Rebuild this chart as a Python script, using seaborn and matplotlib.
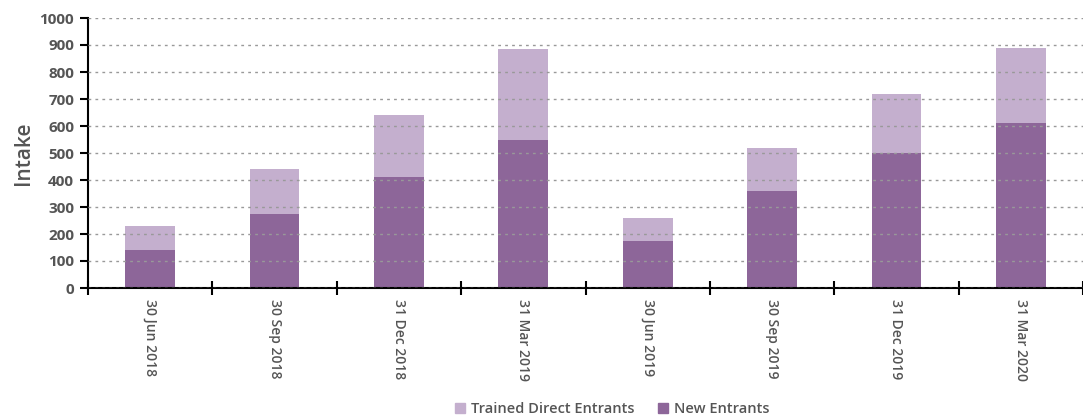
import numpy as np
import pandas as pd
import matplotlib
matplotlib.use("Agg")
import matplotlib.pyplot as plt
import seaborn as sns
from matplotlib.patches import Patch

# chart data
quarters = ["30 Jun 2018", "30 Sep 2018", "31 Dec 2018", "31 Mar 2019",
            "30 Jun 2019", "30 Sep 2019", "31 Dec 2019", "31 Mar 2020"]
new_entrants = [140, 275, 410, 550, 175, 358, 500, 610]
trained_direct = [90, 165, 230, 335, 83, 162, 218, 280]

df = pd.DataFrame({"quarter": quarters,
                   "new": new_entrants,
                   "trained": trained_direct})
df["total"] = df["new"] + df["trained"]

sns.set_style("white")
plt.rcParams['font.family'] = ['Open Sans', 'DejaVu Sans']

light = "#c4afce"
dark = "#8d6699"
text_col = "#555555"

fig = plt.figure(figsize=(10.83, 4.19), dpi=100)
ax = fig.add_axes([88 / 1083, 1 - 288 / 419, 995 / 1083, 270 / 419])

sns.barplot(data=df, x="quarter", y="total", color=light, width=0.4,
            saturation=1, linewidth=0, ax=ax)
sns.barplot(data=df, x="quarter", y="new", color=dark, width=0.4,
            saturation=1, linewidth=0, ax=ax)

ax.set_xlim(-0.5, len(quarters) - 0.5)
ax.set_ylim(0, 1000)
ax.set_yticks(np.arange(0, 1001, 100))
ax.yaxis.grid(True, linestyle=(0, (2, 3)), color="#999999", linewidth=1)
ax.set_axisbelow(False)

for s in ["top", "right"]:
    ax.spines[s].set_visible(False)
for s in ["left", "bottom"]:
    ax.spines[s].set_color("black")
    ax.spines[s].set_linewidth(1.5)

ax.set_xticks(range(len(quarters)))
ax.set_xticks(np.arange(-0.5, len(quarters)), minor=True)
ax.tick_params(axis="x", which="minor", bottom=True, direction="inout",
               length=10, width=1.5, color="black")
ax.tick_params(axis="x", which="major", bottom=True, length=0, pad=8)
ax.tick_params(axis="y", which="major", left=True, direction="out", length=6,
               width=1.5, color="black", pad=4)
ax.set_xticklabels(quarters, rotation=-90, fontsize=10, color=text_col,
                   fontweight="semibold")
for lab in ax.get_yticklabels():
    lab.set_fontsize(11)
    lab.set_color(text_col)
    lab.set_fontweight("bold")

ax.set_xlabel("")
ax.set_ylabel("Intake", fontsize=15, color=text_col, fontweight="semibold",
              labelpad=4)

handles = [Patch(color=light, label="Trained Direct Entrants"),
           Patch(color=dark, label="New Entrants")]
fig.legend(handles=handles, loc="center", bbox_to_anchor=(612 / 1083, 1 - 409 / 419),
           ncol=2, frameon=False, handlelength=0.7, handleheight=0.7,
           handletextpad=0.4, columnspacing=1.6,
           prop={"size": 10.5, "weight": "semibold"}, labelcolor=text_col)

fig.savefig("out.png", dpi=100)
